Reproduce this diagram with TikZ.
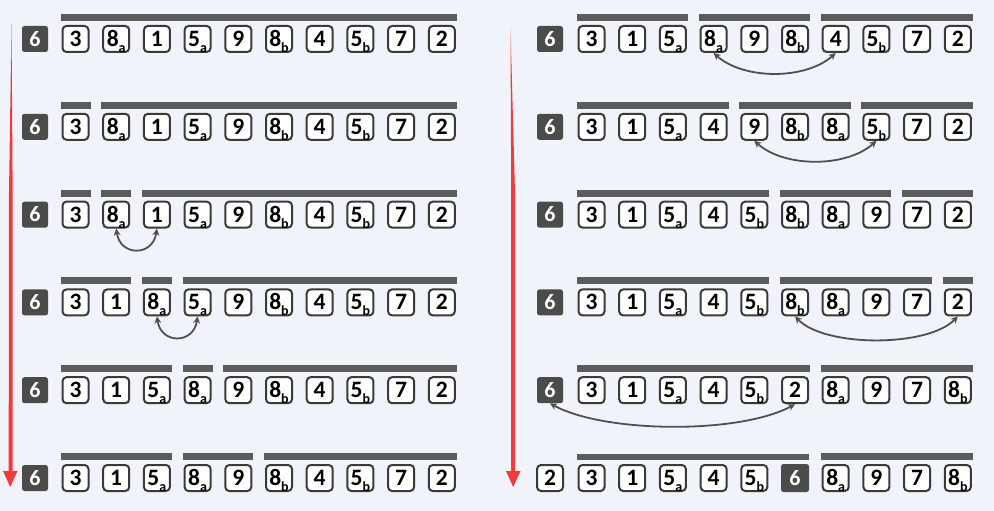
\documentclass[tikz,border=0pt]{standalone}
\usepackage{fontspec}
\setmainfont{Carlito}
\usetikzlibrary{calc,arrows.meta}
\definecolor{bgc}{HTML}{F0F4FA}
\definecolor{boxc}{HTML}{3A3A3A}
\definecolor{barc}{HTML}{5C5C5C}
\definecolor{pivc}{HTML}{4B4B4B}
\definecolor{arcc}{HTML}{505050}
\definecolor{redc}{HTML}{F23A3A}
\newcommand\dsub[2]{#1\raisebox{-6pt}{\fontsize{14}{14}\selectfont #2}}
\newcommand\cellrow[4]{%
  \foreach \t [count=\i from 0] in {#4} {\node[cell] (#1-\i) at ({#2+40.7*\i},#3) {\t};}}
\newcommand\seg[3]{\fill[barc] ($(#1-#2.north west)+(-1,-4)$) rectangle ($(#1-#3.north east)+(1,-11)$);}
\tikzset{
  cell/.style={draw=boxc, line width=2pt, fill=white, rounded corners=4pt,
    minimum width=26pt, minimum height=26pt, inner sep=0pt,
    text height=15pt, text depth=0pt, font=\fontsize{23.5}{23.5}\selectfont\bfseries},
  pivot/.style={fill=pivc, rounded corners=2.5pt, minimum size=26pt, inner sep=0pt,
    text=white, text height=14.5pt, text depth=0pt, font=\fontsize{22}{22}\selectfont\bfseries},
  swaparc/.style={draw=arcc, line width=1.8pt,
    {Stealth[length=7pt,width=7pt]}-{Stealth[length=7pt,width=7pt]}}
}
\begin{document}
\begin{tikzpicture}[x=1pt,y=-1pt]
\fill[bgc] (0,0) rectangle (994,511);
% red arrows
\fill[redc] (11.5,24) -- (12.7,200) -- (12.7,471) -- (17.5,471) -- (10.2,487) -- (3,471) -- (8.7,471) -- (8.9,200) -- cycle;
\fill[redc] (510.5,28) -- (515.2,200) -- (515.2,471) -- (520.5,471) -- (513.2,487) -- (506,471) -- (511.2,471) -- (511.2,200) -- cycle;
% ---------- left panel ----------
\foreach \r/\y in {0/39,1/126.8,2/214.6,3/302.4,4/390.2,5/478} {\node[pivot] (Lp\r) at (35,\y) {6};}
\cellrow{L0}{75.5}{39}{3,\dsub{8}{a},1,\dsub{5}{a},9,\dsub{8}{b},4,\dsub{5}{b},7,2}
\cellrow{L1}{75.5}{126.8}{3,\dsub{8}{a},1,\dsub{5}{a},9,\dsub{8}{b},4,\dsub{5}{b},7,2}
\cellrow{L2}{75.5}{214.6}{3,\dsub{8}{a},1,\dsub{5}{a},9,\dsub{8}{b},4,\dsub{5}{b},7,2}
\cellrow{L3}{75.5}{302.4}{3,1,\dsub{8}{a},\dsub{5}{a},9,\dsub{8}{b},4,\dsub{5}{b},7,2}
\cellrow{L4}{75.5}{390.2}{3,1,\dsub{5}{a},\dsub{8}{a},9,\dsub{8}{b},4,\dsub{5}{b},7,2}
\cellrow{L5}{75.5}{478}{3,1,\dsub{5}{a},\dsub{8}{a},9,\dsub{8}{b},4,\dsub{5}{b},7,2}
\seg{L0}{0}{9}
\seg{L1}{0}{0}\seg{L1}{1}{9}
\seg{L2}{0}{0}\seg{L2}{1}{1}\seg{L2}{2}{9}
\seg{L3}{0}{1}\seg{L3}{2}{2}\seg{L3}{3}{9}
\seg{L4}{0}{2}\seg{L4}{3}{3}\seg{L4}{4}{9}
\seg{L5}{0}{2}\seg{L5}{3}{4}\seg{L5}{5}{9}
\draw[swaparc] (L2-1.south) .. controls +(4,28) and +(-4,28) .. (L2-2.south);
\draw[swaparc] (L3-2.south) .. controls +(4,28) and +(-4,28) .. (L3-3.south);
% ---------- right panel ----------
\foreach \r/\y in {0/39,1/126.8,2/214.6,3/302.4,4/390.2} {\node[pivot] (Rp\r) at (550,\y) {6};}
\cellrow{R0}{591.5}{39}{3,1,\dsub{5}{a},\dsub{8}{a},9,\dsub{8}{b},4,\dsub{5}{b},7,2}
\cellrow{R1}{591.5}{126.8}{3,1,\dsub{5}{a},4,9,\dsub{8}{b},\dsub{8}{a},\dsub{5}{b},7,2}
\cellrow{R2}{591.5}{214.6}{3,1,\dsub{5}{a},4,\dsub{5}{b},\dsub{8}{b},\dsub{8}{a},9,7,2}
\cellrow{R3}{591.5}{302.4}{3,1,\dsub{5}{a},4,\dsub{5}{b},\dsub{8}{b},\dsub{8}{a},9,7,2}
\cellrow{R4}{591.5}{390.2}{3,1,\dsub{5}{a},4,\dsub{5}{b},2,\dsub{8}{a},9,7,\dsub{8}{b}}
\node[cell] (Rp5) at (550,478) {2};
\cellrow{R5}{591.5}{478}{3,1,\dsub{5}{a},4,\dsub{5}{b}}
\node[pivot, minimum size=28pt] (R5-5) at ({591.5+40.7*5},478) {6};
\foreach \t [count=\i from 6] in {\dsub{8}{a},9,7,\dsub{8}{b}} {\node[cell] (R5-\i) at ({591.5+40.7*\i},478) {\t};}
\seg{R0}{0}{2}\seg{R0}{3}{5}\seg{R0}{6}{9}
\seg{R1}{0}{3}\seg{R1}{4}{6}\seg{R1}{7}{9}
\seg{R2}{0}{4}\seg{R2}{5}{7}\seg{R2}{8}{9}
\seg{R3}{0}{4}\seg{R3}{5}{8}\seg{R3}{9}{9}
\seg{R4}{0}{5}\seg{R4}{6}{9}
\seg{R5}{6}{9}
\fill[barc] ($(R5-0.north west)+(-1,-4)$) rectangle ($(R5-5.north east)+(0,-10)$);
\draw[swaparc] (R0-3.south) .. controls +(30,27) and +(-30,27) .. (R0-6.south);
\draw[swaparc] (R1-4.south) .. controls +(30,27) and +(-30,27) .. (R1-7.south);
\draw[swaparc] (R3-5.south) .. controls +(30,31) and +(-30,31) .. (R3-9.south);
\draw[swaparc] (Rp4.south) .. controls +(55,30) and +(-55,30) .. (R4-5.south);
\end{tikzpicture}
\end{document}
